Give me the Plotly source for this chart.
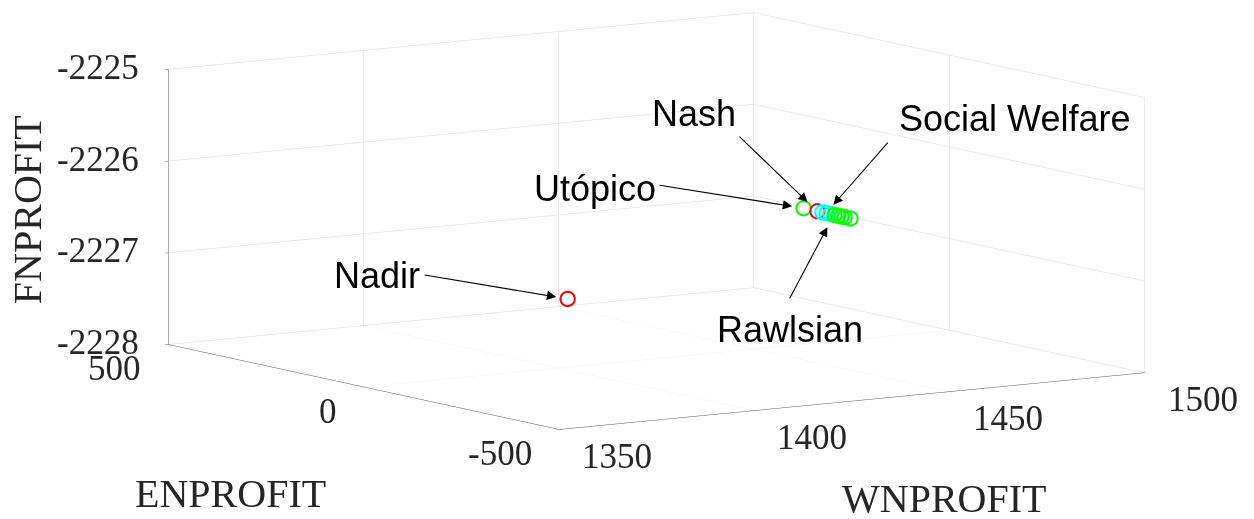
import plotly.graph_objects as go

# ---- data ----
utop_wn, utop_en, utop_fn = [1484.0], [214.0], [-2226.8]
nash_wn, nash_en, nash_fn = [1484.0], [178.5], [-2226.8]
cyan_wn = [1484.0, 1484.0, 1484.0]
cyan_en = [166.0, 155.0, 145.0]
cyan_fn = [-2226.8, -2226.8, -2226.8]
par_wn = [1484.0, 1484.0, 1484.0, 1484.0, 1484.0]
par_en = [135.0, 125.0, 117.0, 109.0, 94.0]
par_fn = [-2226.8, -2226.8, -2226.8, -2226.8, -2226.8]
nadir_wn, nadir_en, nadir_fn = [1420.6], [184.5], [-2227.5]

x_range = [1350, 1500]
y_range = [-500, 500]
z_range = [-2228, -2225]
x_ticks = [1350, 1400, 1450, 1500]
y_ticks = [-500, 0, 500]
z_ticks = [-2228, -2227, -2226, -2225]

fig = go.Figure()

def add(xs, ys, zs, color):
    fig.add_trace(go.Scatter3d(
        x=xs, y=ys, z=zs, mode="markers",
        marker=dict(symbol="circle-open", size=9, color=color,
                    line=dict(color=color, width=1)),
        hoverinfo="skip", showlegend=False))

add(par_wn, par_en, par_fn, "#00ff00")
add(cyan_wn, cyan_en, cyan_fn, "#00ffff")
add(nash_wn, nash_en, nash_fn, "#ff0000")
add(utop_wn, utop_en, utop_fn, "#00ff00")
add(nadir_wn, nadir_en, nadir_fn, "#ff0000")

lab_font = dict(family="Liberation Sans, Arial", size=36, color="black")
tick_font = dict(family="Liberation Serif, Times New Roman", size=35, color="#262626")
title_font = dict(family="Liberation Serif, Times New Roman", size=40, color="#262626")

ann = []

def label(x, y, z, text, xs, ys, ax, ay, standoff):
    ann.append(dict(x=x, y=y, z=z, text="", showarrow=True, ax=ax, ay=ay,
                    arrowhead=2, arrowsize=1.7, arrowwidth=1.1,
                    arrowcolor="black", standoff=standoff))
    ann.append(dict(x=x, y=y, z=z, text=text, showarrow=False,
                    xshift=xs, yshift=ys, font=lab_font))

label(nadir_wn[0], nadir_en[0], nadir_fn[0], "Nadir", -190, 23, -144, -24, 11)
label(nash_wn[0], nash_en[0], nash_fn[0], "Nash", -123, 98, -79, -76, 13)
label(utop_wn[0], utop_en[0], utop_fn[0], "Utópico", -208, 20, -145, -23, 11)
label(cyan_wn[1], cyan_en[1], cyan_fn[1], "Social Welfare", 188, 95, 63, -72, 11)
label(par_wn[0], par_en[0], par_fn[0], "Rawlsian", -44, -115, -45, 85, 14)

# tick labels, anchored at the tick positions on the axis edges
for v in z_ticks:
    ann.append(dict(x=x_range[0], y=y_range[1], z=v, text=str(v), showarrow=False,
                    xanchor="right", xshift=-27, yshift=2, font=tick_font))
for v in y_ticks:
    ann.append(dict(x=x_range[0], y=v, z=z_range[0], text=str(v), showarrow=False,
                    xanchor="right", xshift=-25, yshift=-24, font=tick_font))
for v in x_ticks:
    ann.append(dict(x=v, y=y_range[0], z=z_range[0], text=str(v), showarrow=False,
                    xanchor="left", xshift=21, yshift=-27, font=tick_font))

# axis titles
ann.append(dict(x=x_range[0], y=sum(y_range) / 2, z=z_range[0], text="ENPROFIT",
                showarrow=False, xshift=-133, yshift=-106, font=title_font))
ann.append(dict(x=sum(x_range) / 2, y=y_range[0], z=z_range[0], text="WNPROFIT",
                showarrow=False, xshift=92, yshift=-97, font=title_font))
ann.append(dict(x=x_range[0], y=y_range[1], z=sum(z_range) / 2, text="FNPROFIT",
                showarrow=False, xshift=-140, yshift=-3, textangle=-90, font=title_font))

def axis(rng, tv):
    return dict(title=dict(text=""), range=rng, tickvals=tv,
                showticklabels=False,
                showbackground=False, gridcolor="#d9d9d9", gridwidth=1,
                showline=True, linecolor="#5a5a5a", linewidth=1,
                ticks="outside", ticklen=4, tickcolor="#5a5a5a",
                zeroline=False, showspikes=False, autorange=False)

eye_dir = (-0.5496, -0.8229, 0.1452)
eye_mag = 3.0
k = 3.2

fig.update_layout(
    width=1254, height=519, margin=dict(l=0, r=0, t=0, b=0),
    paper_bgcolor="white",
    scene=dict(
        domain=dict(x=[0.0398, 0.9944], y=[0.152, 1.0]),
        xaxis=axis(x_range, x_ticks),
        yaxis=axis(y_range, y_ticks),
        zaxis=axis(z_range, z_ticks),
        aspectmode="manual", aspectratio=dict(x=k, y=k, z=0.395 * k),
        camera=dict(projection=dict(type="orthographic"),
                    eye=dict(x=eye_dir[0] * eye_mag, y=eye_dir[1] * eye_mag,
                             z=eye_dir[2] * eye_mag - 0.032),
                    up=dict(x=0, y=0, z=1), center=dict(x=0, y=0, z=-0.032)),
        annotations=ann,
    ),
)

fig.write_html("out.html")
